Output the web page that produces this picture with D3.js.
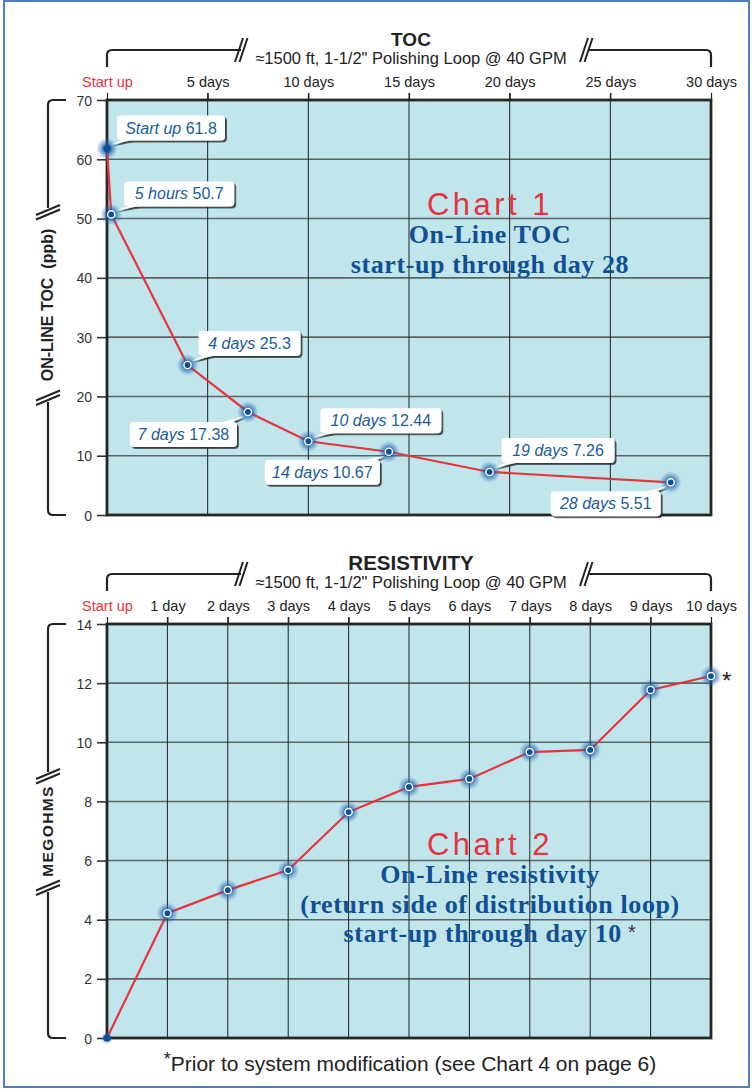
<!DOCTYPE html>
<html>
<head>
<meta charset="utf-8">
<script src="https://cdn.jsdelivr.net/npm/d3@7"></script>
<style>
  html,body{margin:0;padding:0;background:#fff;}
  svg{display:block;}
</style>
</head>
<body>
<svg id="chart" width="752" height="1089"></svg>
<script>
// ---------- DATA ----------
const tocDays   = [0, 0.21, 4, 7, 10, 14, 19, 28];
const tocNames  = ["Start up", "5 hours", "4 days", "7 days", "10 days", "14 days", "19 days", "28 days"];
const tocValues = [61.8, 50.7, 25.3, 17.38, 12.44, 10.67, 7.26, 5.51];
const tocValueText = ["61.8", "50.7", "25.3", "17.38", "12.44", "10.67", "7.26", "5.51"];
const tocTickDays = [0, 5, 10, 15, 20, 25, 30];
const tocTickLabels = ["Start up", "5 days", "10 days", "15 days", "20 days", "25 days", "30 days"];
const tocYTicks = [0, 10, 20, 30, 40, 50, 60, 70];

const resDays   = [0, 1, 2, 3, 4, 5, 6, 7, 8, 9, 10];
const resValues = [0, 4.22, 5.0, 5.68, 7.64, 8.49, 8.76, 9.67, 9.74, 11.77, 12.24];
const resTickLabels = ["Start up", "1 day", "2 days", "3 days", "4 days", "5 days", "6 days", "7 days", "8 days", "9 days", "10 days"];
const resYTicks = [0, 2, 4, 6, 8, 10, 12, 14];

// callout placement (layout, px offsets from each point): [dx, dy, width]
const tocCallouts = [[10,-33,108],[13,-33,110],[11,-34,102],[-118,10,107],[12,-33,121],[-124,8,115],[12,-34,113],[-120,9,110]];

// ---------- SETUP ----------
const svg = d3.select("#chart");
const defs = svg.append("defs");
const glow = defs.append("radialGradient").attr("id","glow");
glow.append("stop").attr("offset","0%").attr("stop-color","#0a3f85").attr("stop-opacity",1);
glow.append("stop").attr("offset","40%").attr("stop-color","#14549f").attr("stop-opacity",0.7);
glow.append("stop").attr("offset","100%").attr("stop-color","#3a80c8").attr("stop-opacity",0);
const sh = defs.append("filter").attr("id","shadow").attr("x","-20%").attr("y","-30%").attr("width","140%").attr("height","170%");
sh.append("feDropShadow").attr("dx",1.8).attr("dy",1.8).attr("stdDeviation",0.7).attr("flood-color","#222").attr("flood-opacity",0.85);

const SANS = "'Liberation Sans',Arial,sans-serif";
const SERIF = "'Liberation Serif','DejaVu Serif',serif";
const RED = "#e8333d", BLUE_TXT = "#1b5b9c";

// outer frame
svg.append("rect").attr("x",4).attr("y",1).attr("width",745).attr("height",1086)
  .attr("fill","none").attr("stroke","#4d7fbd").attr("stroke-width",2);

function drawPanel(opt){
  const g = svg.append("g");
  const {x, y, left, right, top, bottom} = opt;

  // header bracket
  const by = top - 50, bx1 = left, bx2 = right;
  g.append("text").attr("x", 411).attr("y", top - 54).attr("text-anchor","middle")
    .attr("font-family", SANS).attr("font-weight","bold").attr("font-size",opt.titleSize).attr("fill","#222").text(opt.title);
  g.append("text").attr("x", 411).attr("y", top - 36).attr("text-anchor","middle")
    .attr("font-family", SANS).attr("font-size",16.5).attr("fill","#222").text("\u22481500 ft, 1-1/2\" Polishing Loop @ 40 GPM");
  const bp = "M"+bx1+","+(top-33)+" V"+(by+5)+" Q"+bx1+","+by+" "+(bx1+5)+","+by+" H241"
           + " M588,"+by+" H"+(bx2-5)+" Q"+bx2+","+by+" "+bx2+","+(by+5)+" V"+(top-33);
  g.append("path").attr("d",bp).attr("fill","none").attr("stroke","#222").attr("stroke-width",2.2);
  [239, 243.5, 584, 588.5].forEach(cx=>{
    g.append("line").attr("x1",cx-4).attr("y1",by+12).attr("x2",cx+4).attr("y2",by-12)
      .attr("stroke","#222").attr("stroke-width",2);
  });

  // plot background
  g.append("rect").attr("x",left).attr("y",top).attr("width",right-left).attr("height",bottom-top).attr("fill","#c0e6ec");

  // grid
  g.append("g").selectAll("line").data(opt.yTicks.slice(1,-1)).join("line")
    .attr("x1",left).attr("x2",right).attr("y1",d=>y(d)).attr("y2",d=>y(d))
    .attr("stroke","#5e6466").attr("stroke-width",1.6);
  g.append("g").selectAll("line").data(opt.xTicks.slice(1,-1)).join("line")
    .attr("y1",top-7).attr("y2",bottom).attr("x1",d=>x(d)).attr("x2",d=>x(d))
    .attr("stroke","#1e1e1e").attr("stroke-width",1);

  // x axis (top)
  const xa = d3.axisTop(x).tickValues(opt.xTicks).tickSize(7).tickPadding(6)
    .tickFormat((d,i)=>opt.xLabels[i]);
  const xg = g.append("g").attr("transform","translate(0,"+top+")").call(xa);
  xg.select(".domain").remove();
  xg.selectAll("line").attr("stroke","#1e1e1e").attr("stroke-width",1.2);
  xg.selectAll("text").attr("font-family",SANS).attr("font-size",14.5)
    .attr("y",-13).attr("dy",0)
    .attr("fill",(d,i)=>i===0?RED:"#222");

  // y axis
  const ya = d3.axisLeft(y).tickValues(opt.yTicks).tickSize(10).tickPadding(5);
  const yg = g.append("g").attr("transform","translate("+left+",0)").call(ya);
  yg.select(".domain").remove();
  yg.selectAll("line").attr("stroke","#333").attr("stroke-width",1.6);
  yg.selectAll("text").attr("font-family",SANS).attr("font-size",14).attr("fill","#333").attr("dy","0.36em");

  // plot frame
  g.append("rect").attr("x",left).attr("y",top).attr("width",right-left).attr("height",bottom-top)
    .attr("fill","none").attr("stroke","#262626").attr("stroke-width",2.8);

  // y bracket
  const vx = 48;
  const vp = "M66,"+top+" H"+(vx+5)+" Q"+vx+","+top+" "+vx+","+(top+5)+" V"+opt.brk1
           + " M"+vx+","+opt.brk2+" V"+(bottom-5)+" Q"+vx+","+bottom+" "+(vx+5)+","+bottom+" H66";
  g.append("path").attr("d",vp).attr("fill","none").attr("stroke","#222").attr("stroke-width",2.2);
  [opt.brk1+2, opt.brk1+6.5, opt.brk2-6.5, opt.brk2-2].forEach(cy=>{
    g.append("line").attr("x1",vx-12).attr("y1",cy+5).attr("x2",vx+12).attr("y2",cy-5)
      .attr("stroke","#222").attr("stroke-width",2);
  });
  g.append("text").attr("transform","translate(53,"+opt.ylabY+") rotate(-90)")
    .attr("text-anchor","middle").attr("font-family",SANS).attr("font-weight","bold")
    .attr("font-size",opt.ylabSize).attr("letter-spacing",opt.ylabSpacing).attr("fill","#222").attr("xml:space","preserve").text(opt.ylabel);

  // chart overlay titles
  g.append("text").attr("x",490).attr("y",opt.chartY).attr("text-anchor","middle")
    .attr("font-family",SANS).attr("font-size",31).attr("letter-spacing",3.5).attr("fill",RED).text(opt.chartName);
  opt.subLines.forEach((t,i)=>{
    const tx = g.append("text").attr("x",490).attr("y",opt.chartY+28+i*29.5).attr("text-anchor","middle")
      .attr("font-family",SERIF).attr("font-weight","bold").attr("font-size",26).attr("letter-spacing",0.6).attr("fill","#114f95");
    tx.append("tspan").text(t);
    if (opt.star && i===opt.subLines.length-1){
      tx.append("tspan").attr("font-family",SANS).attr("font-weight","normal").attr("fill","#333")
        .attr("dy",-3).attr("font-size",20).text(" *");
    }
  });

  // line + points
  const pts = opt.days.map((d,i)=>[x(d), y(opt.values[i])]);
  g.append("path").attr("d", d3.line()(pts)).attr("fill","none").attr("stroke",RED).attr("stroke-width",2.2);
  g.append("g").selectAll("circle").data(pts).join("circle")
    .attr("cx",d=>d[0]).attr("cy",d=>d[1]).attr("r",(d,i)=>i===0&&opt.firstSmall?6:11).attr("fill","url(#glow)");
  g.append("g").selectAll("circle").data(pts).join("circle")
    .attr("cx",d=>d[0]).attr("cy",d=>d[1]).attr("r",3.6).attr("fill","#0b4f9d")
    .attr("stroke","#fff").attr("stroke-width",(d,i)=>i===0?0:1.4);
  return {g, pts};
}

// ---------- CHART 1 ----------
const x1 = d3.scaleLinear().domain([0,30]).range([107,711]);
const y1 = d3.scaleLinear().domain([0,70]).range([515,100]);
const p1 = drawPanel({x:x1, y:y1, left:107, right:711, top:100, bottom:515,
  title:"TOC", titleSize:19, xTicks:tocTickDays, xLabels:tocTickLabels, yTicks:tocYTicks,
  brk1:208, brk2:402, ylabY:305, ylabel:"ON-LINE TOC  (ppb)", ylabSize:16, ylabSpacing:0,
  chartName:"Chart 1", chartY:215, subLines:["On-Line TOC","start-up through day 28"],
  days:tocDays, values:tocValues, firstSmall:false});

// callouts
const cg = svg.append("g");
p1.pts.forEach((p,i)=>{
  const [dx,dy,w] = tocCallouts[i];
  const h = 25, bx = p[0]+dx, by = p[1]+dy;
  const grp = cg.append("g").attr("filter","url(#shadow)");
  grp.append("rect").attr("x",bx).attr("y",by).attr("width",w).attr("height",h).attr("rx",4).attr("fill","#fff");
  let tail;
  if (dy < 0) {
    tail = [[bx+6,by+h-1],[bx+18,by+h-1],[p[0]+4,p[1]-4]];
  } else {
    tail = [[bx+w-18,by+1],[bx+w-6,by+1],[p[0]-4,p[1]+4]];
  }
  grp.append("path").attr("d","M"+tail.map(t=>t.join(",")).join("L")+"Z").attr("fill","#fff");
  const t = cg.append("text").attr("x",bx+w/2).attr("y",by+18).attr("text-anchor","middle")
    .attr("font-family",SANS).attr("font-size",16).attr("fill",BLUE_TXT);
  t.append("tspan").attr("font-style","italic").text(tocNames[i]);
  t.append("tspan").text(" "+tocValueText[i]);
});

// ---------- CHART 2 ----------
const x2 = d3.scaleLinear().domain([0,10]).range([107,711]);
const y2 = d3.scaleLinear().domain([0,14]).range([1038,624]);
const p2 = drawPanel({x:x2, y:y2, left:107, right:711, top:624, bottom:1038,
  title:"RESISTIVITY", titleSize:20.5, xTicks:resDays, xLabels:resTickLabels, yTicks:resYTicks,
  brk1:772, brk2:892, ylabY:831, ylabel:"MEGOHMS", ylabSize:15.5, ylabSpacing:1.4,
  chartName:"Chart 2", chartY:855, subLines:["On-Line resistivity","(return side of distribution loop)","start-up through day 10"],
  star:true, days:resDays, values:resValues, firstSmall:true});

svg.append("text").attr("x",p2.pts[p2.pts.length-1][0]+11).attr("y",p2.pts[p2.pts.length-1][1]+13)
  .attr("font-family",SANS).attr("font-size",24).attr("fill","#222").text("*");

// footnote
const fn = svg.append("text").attr("x",410).attr("y",1071).attr("text-anchor","middle")
  .attr("font-family",SANS).attr("font-size",21).attr("fill","#222");
fn.append("tspan").attr("font-size",18).attr("dy",-6).text("*");
fn.append("tspan").attr("dy",6).text("Prior to system modification (see Chart 4 on page 6)");
</script>
</body>
</html>
